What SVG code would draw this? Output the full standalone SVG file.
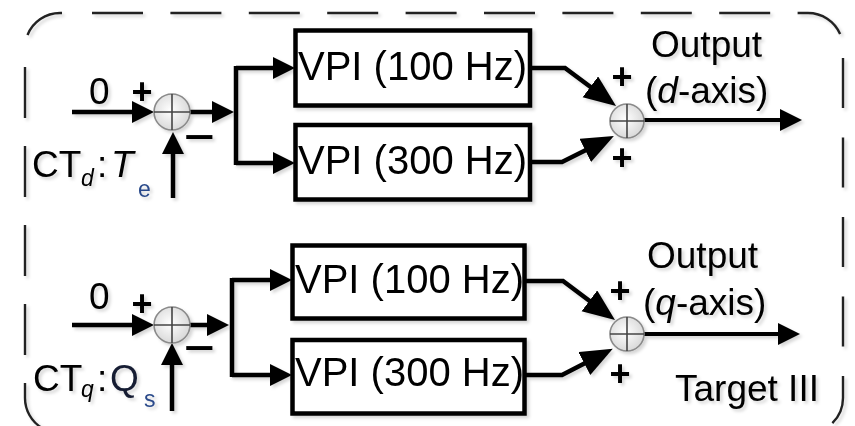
<svg xmlns="http://www.w3.org/2000/svg" width="855" height="426" viewBox="0 0 855 426">
<style>
  .t { font-family: "Liberation Sans", Arial, sans-serif; fill: #000; }
  .vpi { font-size: 40px; }
  .lbl { font-size: 37px; }
  .sgn { font-size: 36px; font-weight: bold; text-anchor: middle; }
  .blu { fill: #2a4a8a; }
  .dblu { fill: #141c33; }
  .box { fill: #fff; stroke: #000; stroke-width: 4.5; }
  .ln { fill: none; stroke: #000; stroke-width: 4.5; stroke-linejoin: miter; }
  .out { fill: none; stroke: #000; stroke-width: 3.8; }
  .sum circle { fill: url(#g); stroke: #8a8a8a; stroke-width: 1.6; }
  .sum line { stroke: #444; stroke-width: 1.6; }
  .brd { fill: none; stroke: #222; stroke-width: 2.4; }
</style>
<defs>
  <radialGradient id="g" cx="0.45" cy="0.45" r="0.6">
    <stop offset="0" stop-color="#ffffff"/>
    <stop offset="1" stop-color="#d6d6d6"/>
  </radialGradient>
  <marker id="a" markerUnits="userSpaceOnUse" markerWidth="24" markerHeight="24" refX="8" refY="11" orient="auto">
    <path d="M0,0 L22,11 L0,22 Z" fill="#000"/>
  </marker>
  <marker id="b" markerUnits="userSpaceOnUse" markerWidth="34" markerHeight="28" refX="12" refY="13" orient="auto">
    <path d="M0,0 L32,13 L0,26 Z" fill="#000"/>
  </marker>
  <filter id="sh" x="-5%" y="-5%" width="110%" height="110%">
    <feDropShadow dx="2.5" dy="2.5" stdDeviation="1.5" flood-color="#000" flood-opacity="0.16"/>
  </filter>
</defs>
<rect width="855" height="426" fill="#fff"/>
<g filter="url(#sh)">
  <g id="border">
    <path class="brd" d="M62,13 H60 A35,35 0 0 0 27.5,35"/>
    <path class="brd" d="M92,13 H808 A35,35 0 0 1 843,48" stroke-dasharray="51 27.4"/>
    <path class="brd" d="M843,58 V398 A35,35 0 0 1 808,433" stroke-dasharray="50 29.5"/>
    <path class="brd" d="M25,67 V398 A35,35 0 0 0 60,433" stroke-dasharray="51 28"/>
  </g>

  <g id="connectors">
    <path class="ln" d="M72,112 H140" marker-end="url(#a)"/>
    <path class="ln" d="M190,112 H220" marker-end="url(#a)"/>
    <path class="ln" d="M236,66 V165"/>
    <path class="ln" d="M236,68 H281" marker-end="url(#a)"/>
    <path class="ln" d="M236,163 H281" marker-end="url(#a)"/>
    <path class="ln" d="M173,198 V146" marker-end="url(#a)"/>
    <path class="ln" d="M530,68 H565 L600,94" marker-end="url(#b)"/>
    <path class="ln" d="M530,162 H562 L596,145" marker-end="url(#b)"/>
    <path class="out" d="M644,120 H788" marker-end="url(#a)"/>
    <path class="ln" d="M72,325 H140" marker-end="url(#a)"/>
    <path class="ln" d="M190,325 H215" marker-end="url(#a)"/>
    <path class="ln" d="M232,278 V377"/>
    <path class="ln" d="M232,280 H278" marker-end="url(#a)"/>
    <path class="ln" d="M232,375 H278" marker-end="url(#a)"/>
    <path class="ln" d="M172,411 V357" marker-end="url(#a)"/>
    <path class="ln" d="M524,281 H563 L599,308" marker-end="url(#b)"/>
    <path class="ln" d="M524,375 H562 L595,358" marker-end="url(#b)"/>
    <path class="out" d="M644,334 H786" marker-end="url(#a)"/>
  </g>

  <g id="sum-d-in" class="sum">
    <circle cx="172" cy="112" r="18"/>
    <line x1="154" y1="112" x2="190" y2="112"/>
    <line x1="172" y1="94" x2="172" y2="130"/>
  </g>
  <g id="vpi-d-100">
    <rect class="box" x="295.5" y="30.5" width="234.5" height="75"/>
    <text class="t vpi" x="298" y="80">VPI (100 Hz)</text>
  </g>
  <g id="vpi-d-300">
    <rect class="box" x="295.5" y="125" width="234.5" height="74.5"/>
    <text class="t vpi" x="298" y="174">VPI (300 Hz)</text>
  </g>
  <g id="sum-d-out" class="sum">
    <circle cx="627" cy="121" r="17"/>
    <line x1="610" y1="121" x2="644" y2="121"/>
    <line x1="627" y1="104" x2="627" y2="138"/>
  </g>

  <g id="sum-q-in" class="sum">
    <circle cx="172" cy="325" r="18"/>
    <line x1="154" y1="325" x2="190" y2="325"/>
    <line x1="172" y1="307" x2="172" y2="343"/>
  </g>
  <g id="vpi-q-100">
    <rect class="box" x="292.5" y="245.5" width="232" height="73"/>
    <text class="t vpi" x="295" y="293">VPI (100 Hz)</text>
  </g>
  <g id="vpi-q-300">
    <rect class="box" x="292.5" y="340" width="232" height="73.5"/>
    <text class="t vpi" x="295" y="386">VPI (300 Hz)</text>
  </g>
  <g id="sum-q-out" class="sum">
    <circle cx="627" cy="334" r="17"/>
    <line x1="610" y1="334" x2="644" y2="334"/>
    <line x1="627" y1="317" x2="627" y2="351"/>
  </g>

  <g id="labels">
    <text class="t lbl" x="89" y="104" font-size="38">0</text>
    <text class="t sgn" x="142" y="104">+</text>
    <text class="t sgn" transform="translate(199,149) scale(1.45,1)" x="0" y="0" font-size="44">−</text>
    <text class="t sgn" x="622" y="89">+</text>
    <text class="t sgn" x="622" y="170">+</text>
    <text class="t lbl" x="651" y="57" font-size="38">Output</text>
    <text class="t lbl" x="645" y="103" font-size="38">(<tspan font-style="italic">d</tspan>-axis)</text>
    <text class="t lbl" x="32" y="177" font-size="35">CT</text>
    <text class="t" x="81" y="186" font-size="23" font-style="italic">d</text>
    <text class="t lbl" x="97" y="177" font-size="35">:</text>
    <text class="t lbl" x="111" y="177" font-size="37" font-style="italic">T</text>
    <text class="t blu" x="138" y="197" font-size="23">e</text>

    <text class="t lbl" x="89" y="309" font-size="38">0</text>
    <text class="t sgn" x="142" y="316">+</text>
    <text class="t sgn" transform="translate(199,360) scale(1.45,1)" x="0" y="0" font-size="44">−</text>
    <text class="t sgn" x="620" y="303">+</text>
    <text class="t sgn" x="620" y="386">+</text>
    <text class="t lbl" x="647" y="268" font-size="38">Output</text>
    <text class="t lbl" x="643" y="315" font-size="38">(<tspan font-style="italic">q</tspan>-axis)</text>
    <text class="t lbl" x="33" y="391" font-size="35">CT</text>
    <text class="t" x="81" y="397" font-size="23" font-style="italic">q</text>
    <text class="t lbl" x="97" y="391" font-size="35">:</text>
    <text class="t lbl dblu" x="110" y="391" font-size="38">Q</text>
    <text class="t blu" x="144" y="407" font-size="23">s</text>
    <text class="t lbl" x="675" y="401" font-size="36">Target III</text>
  </g>
</g>
</svg>
